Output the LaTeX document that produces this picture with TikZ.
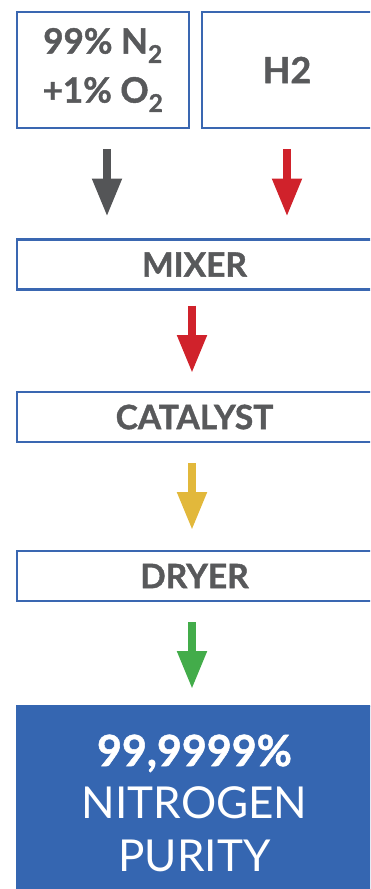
\documentclass[tikz,border=0pt]{standalone}
\usepackage{fontspec}
\setmainfont{Lato}[BoldFeatures={FakeBold=1.2}]
\usepackage{tikz}
\usetikzlibrary{arrows.meta}
\definecolor{boxblue}{HTML}{3A67B1}
\definecolor{fillblue}{HTML}{3566B1}
\definecolor{txtgray}{HTML}{58595B}
\definecolor{arrgray}{HTML}{545557}
\definecolor{arrred}{HTML}{D0222B}
\definecolor{arryellow}{HTML}{E2B83B}
\definecolor{arrgreen}{HTML}{43AC4A}

\begin{document}
\begin{tikzpicture}[x=1pt, y=-1pt,
    stage/.style = {draw=boxblue, line width=2.5pt, fill=white, outer sep=0pt, inner sep=0pt,
                    text=txtgray, font=\bfseries\fontsize{33.5}{36}\selectfont,
                    minimum width=355pt, minimum height=50pt},
    flow/.style = {line width=8pt, -{Triangle[width=28pt,length=38pt]}}]
            \useasboundingbox (0,0) rectangle (370,889);
            \clip (0,0) rectangle (370,889);
            \node[stage, minimum width=172pt, minimum height=116pt, align=center,
                  font=\bfseries\fontsize{35}{49}\selectfont] (gas) at (103,70)
                  {99\% N\textsubscript{2}\\+1\% O\textsubscript{2}};
            \node[stage, minimum width=170pt, minimum height=116pt,
                  font=\bfseries\fontsize{36}{40}\selectfont] (hyd) at (287,70) {H2};
            \node[stage] (mixer) at (194.5,264.5) {MIXER};
            \node[stage] (catalyst) at (194.5,417) {CATALYST};
            \node[stage] (dryer) at (194.5,576) {DRYER};
            \node[stage, draw=fillblue, fill=fillblue, text=white, minimum height=194pt,
                  align=center, font=\fontsize{44}{52.5}\selectfont] (purity) at (194.5,803)
                  {{\bfseries\fontsize{43}{52.5}\selectfont 99,9999\%}\\NITROGEN\\PURITY};
            \draw[flow, arrgray, shorten <=21pt, shorten >=23pt]
                  ([xshift=4pt]gas.south) -- ([xshift=4pt]gas.south |- mixer.north);
            \draw[flow, arrred, shorten <=21pt, shorten >=23pt] (hyd.south) -- (hyd.south |- mixer.north);
            \draw[flow, arrred, shorten <=16pt, shorten >=19pt]
                  ([xshift=-2.5pt]mixer.south) -- ([xshift=-2.5pt]catalyst.north);
            \draw[flow, arryellow, shorten <=21pt, shorten >=21pt]
                  ([xshift=-2.5pt]catalyst.south) -- ([xshift=-2.5pt]dryer.north);
            \draw[flow, arrgreen, shorten <=21pt, shorten >=17pt]
                  ([xshift=-2.5pt]dryer.south) -- ([xshift=-2.5pt]purity.north);
\end{tikzpicture}
\end{document}
